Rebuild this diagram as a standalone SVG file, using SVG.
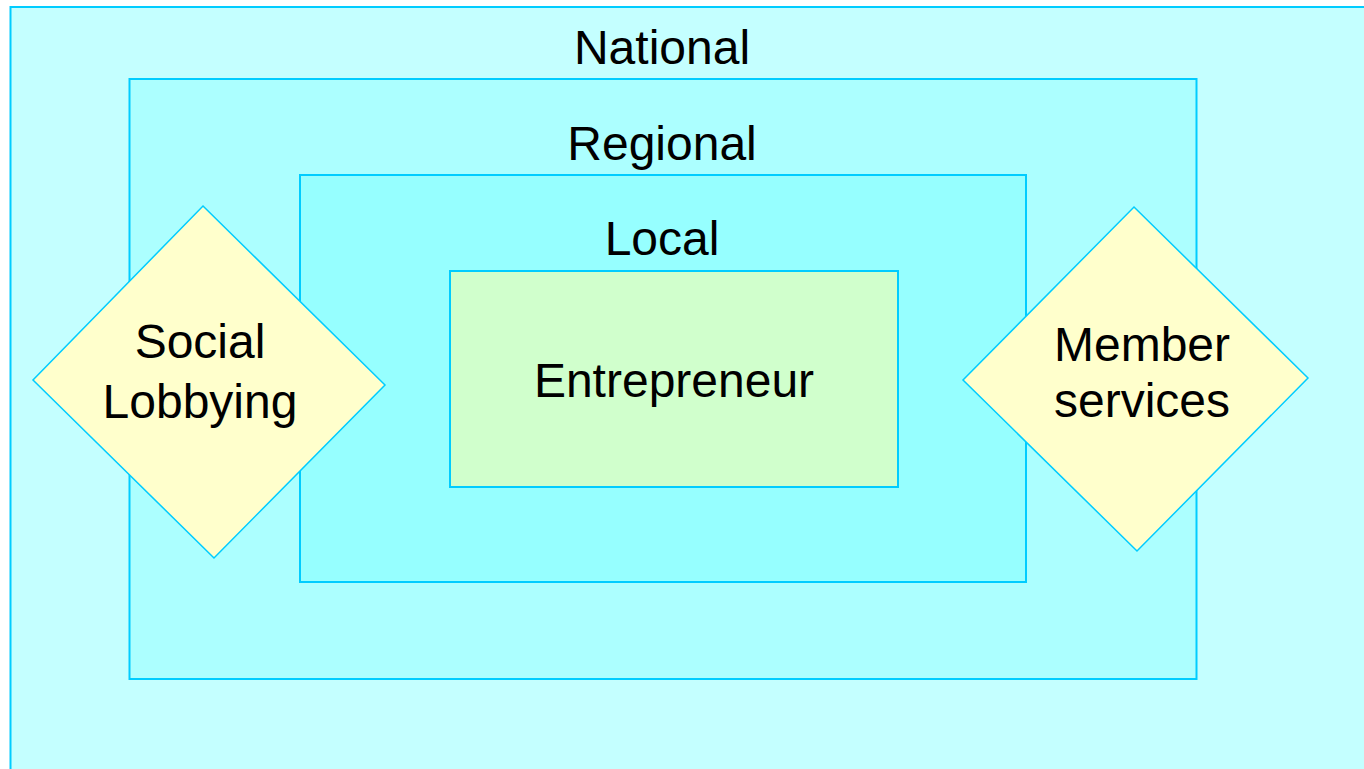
<svg xmlns="http://www.w3.org/2000/svg" width="1364" height="769" viewBox="0 0 1364 769">
<style>
.box{stroke:#00CCFF;stroke-width:2}
.dia{fill:#FFFFCC;stroke:#00CCFF;stroke-width:1.5}
text{font-family:"Liberation Sans",Arial,sans-serif;font-size:48px;fill:#000;text-anchor:middle}
</style>
<rect width="1364" height="769" fill="#ffffff"/>
<g id="national"><rect class="box" x="10.5" y="7" width="1360" height="770" fill="#C4FFFF"/><text x="662" y="64">National</text></g>
<g id="regional"><rect class="box" x="129.5" y="79" width="1067" height="600" fill="#ACFFFF"/><text x="662" y="160">Regional</text></g>
<g id="local"><rect class="box" x="300" y="175" width="726" height="407" fill="#96FFFF"/><text x="662" y="255">Local</text></g>
<g id="entrepreneur"><rect class="box" x="450" y="271" width="448" height="216" fill="#D0FFCC"/><text x="674" y="397">Entrepreneur</text></g>
<g id="social-lobbying"><polygon class="dia" points="203,206 385,385 214,558 33,380"/><text x="200" y="358">Social</text><text x="200" y="418">Lobbying</text></g>
<g id="member-services"><polygon class="dia" points="1134,207 1308,378 1137,551 963,380"/><text x="1142" y="361">Member</text><text x="1142" y="417">services</text></g>
<g id="connectors"/>
</svg>
